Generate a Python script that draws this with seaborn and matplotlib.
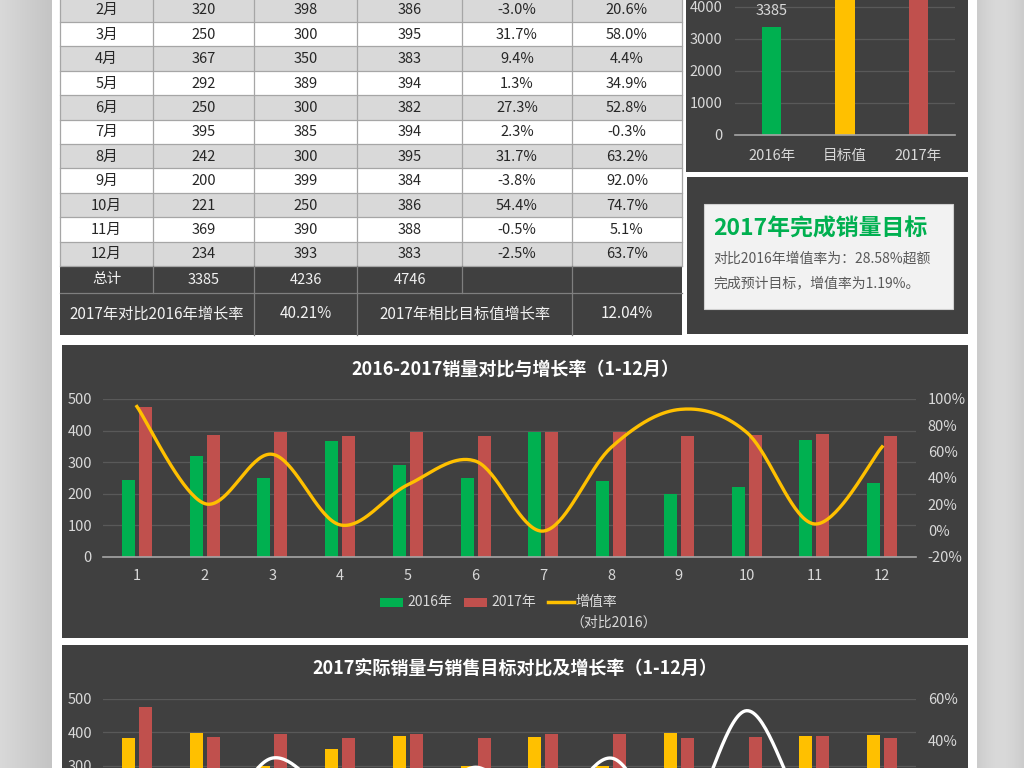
import numpy as np
import pandas as pd
import matplotlib
matplotlib.use("Agg")
import matplotlib.pyplot as plt
import seaborn as sns
from matplotlib.patches import Rectangle
from matplotlib.ticker import FuncFormatter

# ---------------- data ----------------
months = ["1月", "2月", "3月", "4月", "5月", "6月", "7月", "8月", "9月", "10月", "11月", "12月"]
month_ticks = ["1", "2", "3", "4", "5", "6", "7", "8", "9", "10", "11", "12"]
sales_2016 = [245, 320, 250, 367, 292, 250, 395, 242, 200, 221, 369, 234]
target_2017 = [382, 398, 300, 350, 389, 300, 385, 300, 399, 250, 390, 393]
sales_2017 = [476, 386, 395, 383, 394, 382, 394, 395, 384, 386, 388, 383]
growth_vs_target = [24.6, -3.0, 31.7, 9.4, 1.3, 27.3, 2.3, 31.7, -3.8, 54.4, -0.5, -2.5]
growth_vs_2016 = [94.3, 20.6, 58.0, 4.4, 34.9, 52.8, -0.3, 63.2, 92.0, 74.7, 5.1, 63.7]
total_labels = ["2016年", "目标值", "2017年"]
total_values = [3385, 4236, 4746]
summary_labels = ["2017年对比2016年增长率", "2017年相比目标值增长率"]
summary_values = ["40.21%", "12.04%"]

GREEN, RED, YELLOW = "#00b050", "#c0504d", "#ffc000"
PANEL = "#404040"
GRID = "#595959"
TICK = "#d9d9d9"
TS = 10.5  # tick label size

plt.rcParams['font.family'] = ['Noto Sans CJK SC', 'DejaVu Sans']
plt.rcParams['axes.unicode_minus'] = False

W, H = 1024, 768
fig = plt.figure(figsize=(W / 100, H / 100), dpi=100)
fig.patch.set_facecolor("white")


def px_axes(x0, y0, x1, y1, z=2):
    return fig.add_axes([x0 / W, 1 - y1 / H, (x1 - x0) / W, (y1 - y0) / H], zorder=z)


def smooth(xs, ys, n=40):
    pts = np.column_stack([xs, ys]).astype(float)
    P = np.vstack([pts[0], pts, pts[-1]])
    out = []
    t = np.linspace(0, 1, n)[:, None]
    for i in range(1, len(P) - 2):
        p0, p1, p2, p3 = P[i - 1], P[i], P[i + 1], P[i + 2]
        c1 = p1 + (p2 - p0) / 6
        c2 = p2 - (p3 - p1) / 6
        seg = (1 - t) ** 3 * p1 + 3 * (1 - t) ** 2 * t * c1 + 3 * (1 - t) * t ** 2 * c2 + t ** 3 * p2
        out.append(seg if i == 1 else seg[1:])
    s = np.vstack(out)
    return s[:, 0], s[:, 1]


# ---------------- background / panels ----------------
bg = fig.add_axes([0, 0, 1, 1], zorder=0)
bg.axis("off")
g = np.linspace(0, 1, 60)
left = (0.85 - 0.08 * g)[None, :, None] * np.ones((1, 1, 3))
bg.imshow(left, extent=(0, 52, 768, 0), aspect="auto", zorder=0)
g2 = np.linspace(0, 1, 60)
right = (0.80 + 0.05 * np.sin(np.pi * g2))[None, :, None] * np.ones((1, 1, 3))
bg.imshow(right, extent=(977, 1024, 768, 0), aspect="auto", zorder=0)
bg.set_xlim(0, W)
bg.set_ylim(H, 0)

for (x0, y0, x1, y1) in [(686, -10, 968, 172), (687, 177, 968, 334), (62, 345, 968, 638), (62, 645, 968, 800)]:
    bg.add_patch(Rectangle((x0, y0), x1 - x0, y1 - y0, facecolor=PANEL, edgecolor="none", zorder=1))

# ---------------- table (rows 2月-12月 visible; 1月 row lies above the crop) ----------------
cols = [60, 153, 254, 357, 462, 572, 682]
row_h = 24.4
top0 = -26.8
for i in range(12):
    top = top0 + row_h * i
    fc = "#d9d9d9" if i % 2 == 1 else "#ffffff"
    bg.add_patch(Rectangle((cols[0], top), cols[-1] - cols[0], row_h, facecolor=fc, edgecolor="none", zorder=1))
    if top + row_h / 2 > 0:
        cells = [months[i], str(sales_2016[i]), str(target_2017[i]), str(sales_2017[i]),
                 f"{growth_vs_target[i]:.1f}%", f"{growth_vs_2016[i]:.1f}%"]
        for j, txt in enumerate(cells):
            bg.text((cols[j] + cols[j + 1]) / 2, top + row_h / 2 + 0.5, txt, ha="center", va="center",
                    fontsize=10.5, color="#262626", zorder=3)
    bg.plot([cols[0], cols[-1]], [top + row_h, top + row_h], color="#a6a6a6", lw=0.9, zorder=2)
for x in cols:
    bg.plot([x, x], [-30, 266], color="#a6a6a6", lw=0.9, zorder=2)

# total rows
bg.add_patch(Rectangle((60, 266), 622, 69, facecolor=PANEL, edgecolor="none", zorder=1))
tot_cells = ["总计", str(total_values[0]), str(total_values[1]), str(total_values[2]), "", ""]
for j, txt in enumerate(tot_cells):
    if txt:
        bg.text((cols[j] + cols[j + 1]) / 2, 279.5, txt, ha="center", va="center", fontsize=10.5,
                color="#f2f2f2", zorder=3)
for x in cols[1:-1]:
    bg.plot([x, x], [266, 293], color="#7f7f7f", lw=0.9, zorder=2)
bg.plot([60, 682], [293, 293], color="#7f7f7f", lw=0.9, zorder=2)
for x in [254, 357, 572]:
    bg.plot([x, x], [293, 335], color="#7f7f7f", lw=0.9, zorder=2)
bg.text((60 + 254) / 2, 314, summary_labels[0], ha="center", va="center", fontsize=11, color="#f2f2f2", zorder=3)
bg.text((254 + 357) / 2, 314, summary_values[0], ha="center", va="center", fontsize=11, color="#f2f2f2", zorder=3)
bg.text((357 + 572) / 2, 314, summary_labels[1], ha="center", va="center", fontsize=11, color="#f2f2f2", zorder=3)
bg.text((572 + 682) / 2, 314, summary_values[1], ha="center", va="center", fontsize=11, color="#f2f2f2", zorder=3)

# ---------------- text box ----------------
bg.add_patch(Rectangle((704, 204), 249, 105, facecolor="#f2f2f2", edgecolor="#d0d0d0", lw=0.8, zorder=2))
bg.text(713, 229, "2017年完成销量目标", ha="left", va="center", fontsize=16.5, fontweight="bold", color=GREEN, zorder=3)
bg.text(713, 259, "对比2016年增值率为：28.58%超额", ha="left", va="center", fontsize=10, color="#595959", zorder=3)
bg.text(713, 283, "完成预计目标，增值率为1.19%。", ha="left", va="center", fontsize=10, color="#595959", zorder=3)


def style_axis(ax):
    ax.set_facecolor("none")
    for s in ["top", "right", "left"]:
        ax.spines[s].set_visible(False)
    ax.spines["bottom"].set_color("#a6a6a6")
    ax.spines["bottom"].set_linewidth(1.2)
    ax.grid(axis="y", color=GRID, lw=0.9)
    ax.set_axisbelow(True)
    ax.set_xlabel("")
    ax.set_ylabel("")


# ---------------- small totals chart ----------------
ax_s = px_axes(735, -25, 955, 135)
sns.barplot(x=total_labels, y=total_values, hue=total_labels, palette=[GREEN, YELLOW, RED],
            width=0.26, saturation=1, legend=False, linewidth=0, ax=ax_s)
style_axis(ax_s)
ax_s.set_ylim(0, 5000)
ax_s.set_yticks(range(0, 4001, 1000))
ax_s.tick_params(axis="y", length=0, pad=9, labelsize=TS, labelcolor=TICK)
ax_s.tick_params(axis="x", length=0, pad=10, labelsize=TS, labelcolor=TICK)
ax_s.bar_label(ax_s.containers[0], padding=6, fontsize=TS, color=TICK)

# ---------------- middle chart ----------------
df_m = pd.DataFrame({
    "月": month_ticks * 2,
    "销量": sales_2016 + sales_2017,
    "年份": ["2016年"] * 12 + ["2017年"] * 12,
})
ax_m = px_axes(103, 399, 916, 557)
sns.barplot(data=df_m, x="月", y="销量", hue="年份", order=month_ticks, palette=[GREEN, RED],
            width=0.5, gap=0.24, saturation=1, linewidth=0, legend=False, ax=ax_m)
style_axis(ax_m)
ax_m.set_xlim(-0.5, 11.5)
ax_m.set_ylim(0, 500)
ax_m.set_yticks(range(0, 501, 100))
ax_m.tick_params(axis="y", length=0, pad=8, labelsize=TS, labelcolor=TICK)
ax_m.tick_params(axis="x", length=0, pad=9, labelsize=TS, labelcolor=TICK)
ax_m2 = ax_m.twinx()
ax_m2.set_zorder(ax_m.get_zorder() + 0.1)
ax_m2.patch.set_visible(False)
for s in ax_m2.spines.values():
    s.set_visible(False)
sx, sy = smooth(np.arange(12), np.array(growth_vs_2016) / 100)
sns.lineplot(x=sx, y=sy, sort=False, estimator=None, color=YELLOW, lw=2.4, ax=ax_m2)
ax_m2.set_ylim(-0.2, 1.0)
ax_m2.set_yticks(np.arange(-0.2, 1.01, 0.2))
ax_m2.yaxis.set_major_formatter(FuncFormatter(lambda v, p: f"{v * 100:.0f}%"))
ax_m2.tick_params(axis="y", length=0, pad=8.5, labelsize=TS, labelcolor=TICK)
ax_m2.set_ylabel("")
ax_m2.set_xlim(-0.5, 11.5)

bg.text(515, 369, "2016-2017销量对比与增长率（1-12月）", ha="center", va="center",
        fontsize=13, fontweight="bold", color="white", zorder=3)
# legend
bg.add_patch(Rectangle((380, 598), 23, 8.5, facecolor=GREEN, edgecolor="none", zorder=3))
bg.text(407, 602, "2016年", ha="left", va="center", fontsize=10, color=TICK, zorder=3)
bg.add_patch(Rectangle((464, 598), 23, 8.5, facecolor=RED, edgecolor="none", zorder=3))
bg.text(491, 602, "2017年", ha="left", va="center", fontsize=10, color=TICK, zorder=3)
bg.plot([548, 574], [602, 602], color=YELLOW, lw=2.5, zorder=3)
bg.text(575, 602, "增值率", ha="left", va="center", fontsize=10, color=TICK, zorder=3)
bg.text(614, 623, "（对比2016）", ha="center", va="center", fontsize=10, color=TICK, zorder=3)

# ---------------- bottom chart ----------------
df_b = pd.DataFrame({
    "月": month_ticks * 2,
    "销量": target_2017 + sales_2017,
    "类型": ["目标值"] * 12 + ["2017年"] * 12,
})
ax_b = px_axes(103, 699, 916, 866)
sns.barplot(data=df_b, x="月", y="销量", hue="类型", order=month_ticks, palette=[YELLOW, RED],
            width=0.5, gap=0.24, saturation=1, linewidth=0, legend=False, ax=ax_b)
style_axis(ax_b)
ax_b.set_xlim(-0.5, 11.5)
ax_b.set_ylim(0, 500)
ax_b.set_yticks(range(300, 501, 100))
ax_b.tick_params(axis="y", length=0, pad=8, labelsize=TS, labelcolor=TICK)
ax_b.tick_params(axis="x", length=0, pad=8, labelsize=TS, labelcolor=TICK, labelbottom=False)
ax_b2 = ax_b.twinx()
ax_b2.set_zorder(ax_b.get_zorder() + 0.1)
ax_b2.patch.set_visible(False)
for s in ax_b2.spines.values():
    s.set_visible(False)
bx, by = smooth(np.arange(12), np.array(growth_vs_target) / 100)
sns.lineplot(x=bx, y=by, sort=False, estimator=None, color="white", lw=2.4, ax=ax_b2)
ax_b2.set_ylim(-0.2, 0.6)
ax_b2.set_yticks([0.4, 0.6])
ax_b2.yaxis.set_major_formatter(FuncFormatter(lambda v, p: f"{v * 100:.0f}%"))
ax_b2.tick_params(axis="y", length=0, pad=8.5, labelsize=TS, labelcolor=TICK)
ax_b2.set_ylabel("")
ax_b2.set_xlim(-0.5, 11.5)
bg.text(515, 669, "2017实际销量与销售目标对比及增长率（1-12月）", ha="center", va="center",
        fontsize=13, fontweight="bold", color="white", zorder=3)

fig.savefig("out.png", dpi=100, facecolor="white")
